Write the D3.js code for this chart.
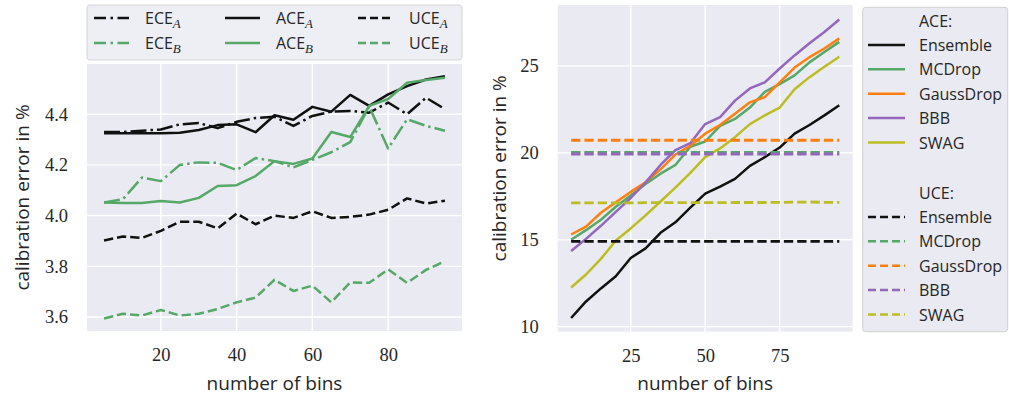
<!DOCTYPE html>
<html>
<head>
<meta charset="utf-8">
<script src="https://cdn.jsdelivr.net/npm/d3@7"></script>
<style>
  body { margin: 0; background: #fff; }
  .tick-label { font-family: "Liberation Serif", "DejaVu Serif", serif; font-size: 18.5px; fill: #262626; }
  .axis-title { font-family: "Open Sans", "DejaVu Sans", sans-serif; font-size: 19px; fill: #262626; }
  .legend-text { font-family: "Open Sans", "DejaVu Sans", sans-serif; font-size: 16px; fill: #262626; }
</style>
</head>
<body>
<svg id="chart" width="1009" height="398"></svg>
<script>
// number of bins, shared by both panels
const bins = [5, 10, 15, 20, 25, 30, 35, 40, 45, 50, 55, 60, 65, 70, 75, 80, 85, 90, 95];

// left panel: model A (black) and model B (green)
const eceA = [4.33, 4.33, 4.335, 4.34, 4.36, 4.365, 4.345, 4.37, 4.385, 4.39, 4.354, 4.393, 4.41, 4.413, 4.406, 4.446, 4.40, 4.465, 4.42];
const aceA = [4.325, 4.325, 4.325, 4.325, 4.327, 4.338, 4.357, 4.36, 4.329, 4.396, 4.378, 4.429, 4.41, 4.476, 4.433, 4.478, 4.511, 4.537, 4.55];
const uceA = [3.902, 3.918, 3.912, 3.94, 3.976, 3.976, 3.95, 4.008, 3.966, 4.0, 3.991, 4.017, 3.991, 3.995, 4.004, 4.023, 4.068, 4.048, 4.059];
const eceB = [4.052, 4.065, 4.15, 4.136, 4.2, 4.21, 4.208, 4.18, 4.227, 4.215, 4.19, 4.22, 4.25, 4.29, 4.43, 4.265, 4.38, 4.354, 4.335];
const aceB = [4.052, 4.05, 4.05, 4.058, 4.052, 4.07, 4.117, 4.12, 4.156, 4.215, 4.204, 4.225, 4.33, 4.31, 4.433, 4.46, 4.524, 4.535, 4.544];
const uceB = [3.594, 3.613, 3.606, 3.628, 3.606, 3.613, 3.632, 3.658, 3.677, 3.747, 3.703, 3.724, 3.658, 3.737, 3.735, 3.788, 3.735, 3.786, 3.82];

const leftXTicks = [20, 40, 60, 80];
const leftYTicks = [3.6, 3.8, 4.0, 4.2, 4.4];

// right panel: ACE per method
const methods = ["Ensemble", "MCDrop", "GaussDrop", "BBB", "SWAG"];
const aceEnsemble = [10.5, 11.45, 12.2, 12.9, 13.95, 14.5, 15.4, 16.0, 16.85, 17.65, 18.05, 18.5, 19.25, 19.75, 20.3, 21.1, 21.6, 22.15, 22.73];
const aceMCDrop = [15.0, 15.55, 16.15, 16.9, 17.55, 18.2, 18.8, 19.3, 20.35, 20.65, 21.55, 21.95, 22.6, 23.5, 23.95, 24.45, 25.2, 25.8, 26.38];
const aceGaussDrop = [15.3, 15.75, 16.55, 17.15, 17.75, 18.3, 19.05, 19.9, 20.4, 21.1, 21.6, 22.25, 22.9, 23.2, 24.05, 24.9, 25.5, 26.0, 26.58];
const aceBBB = [14.35, 15.05, 15.8, 16.6, 17.4, 18.3, 19.3, 20.15, 20.55, 21.65, 22.05, 23.0, 23.7, 24.05, 24.85, 25.6, 26.3, 26.95, 27.67];
const aceSWAG = [12.25, 13.0, 13.9, 14.95, 15.65, 16.4, 17.2, 18.0, 18.85, 19.75, 20.25, 20.9, 21.65, 22.15, 22.6, 23.65, 24.35, 24.95, 25.52];

// right panel: UCE per method (almost flat)
const uceEnsemble = [14.9, 14.9, 14.9, 14.9, 14.9, 14.9, 14.9, 14.9, 14.9, 14.9, 14.9, 14.9, 14.9, 14.9, 14.9, 14.9, 14.9, 14.9, 14.9];
const uceMCDrop = [20.02, 20.02, 20.02, 20.02, 20.02, 20.02, 20.02, 20.02, 20.02, 20.02, 20.02, 20.02, 20.02, 20.02, 20.02, 20.02, 20.02, 20.02, 20.02];
const uceGaussDrop = [20.72, 20.72, 20.72, 20.72, 20.72, 20.72, 20.72, 20.72, 20.72, 20.72, 20.72, 20.72, 20.72, 20.72, 20.72, 20.72, 20.72, 20.72, 20.72];
const uceBBB = [19.93, 19.93, 19.93, 19.93, 19.93, 19.93, 19.93, 19.93, 19.93, 19.93, 19.93, 19.93, 19.93, 19.93, 19.93, 19.93, 19.93, 19.93, 19.93];
const uceSWAG = [17.12, 17.12, 17.12, 17.12, 17.12, 17.13, 17.13, 17.13, 17.13, 17.13, 17.13, 17.14, 17.14, 17.14, 17.15, 17.16, 17.17, 17.15, 17.15];

const rightXTicks = [25, 50, 75];
const rightYTicks = [10, 15, 20, 25];

const GREEN = "#55a868";
const BLACK = "#111111";
const methodColors = ["#111111", "#55a868", "#ff7f0e", "#9467bd", "#bcbd22"];

const svg = d3.select("#chart");

// draws background, grid, tick labels and axis titles for one panel
const drawPanel = (box, xDomain, yDomain, xTicks, yTicks, yFormat, yTitleX) => {
  const x = d3.scaleLinear().domain(xDomain).range([box.left, box.right]);
  const y = d3.scaleLinear().domain(yDomain).range([box.bottom, box.top]);
  const g = svg.append("g");

  g.append("rect")
    .attr("x", box.left).attr("y", box.top)
    .attr("width", box.right - box.left).attr("height", box.bottom - box.top)
    .attr("fill", "#eaeaf2");

  const grid = g.append("g").attr("stroke", "#fff").attr("stroke-width", 1.4);
  grid.selectAll(".gx").data(xTicks).join("line")
    .attr("x1", (d) => x(d)).attr("x2", (d) => x(d))
    .attr("y1", box.top).attr("y2", box.bottom);
  grid.selectAll(".gy").data(yTicks).join("line")
    .attr("y1", (d) => y(d)).attr("y2", (d) => y(d))
    .attr("x1", box.left).attr("x2", box.right);

  // tick labels (no tick marks in darkgrid)
  const xAxis = d3.axisBottom(x).tickValues(xTicks).tickSize(0).tickPadding(17);
  g.append("g").attr("transform", `translate(0, ${box.bottom})`).call(xAxis)
    .call((a) => a.select(".domain").remove())
    .selectAll("text").attr("class", "tick-label").attr("font-size", null).attr("font-family", null);

  const yAxis = d3.axisLeft(y).tickValues(yTicks).tickSize(0).tickPadding(19).tickFormat(yFormat);
  g.append("g").attr("transform", `translate(${box.left}, 0)`).call(yAxis)
    .call((a) => a.select(".domain").remove())
    .selectAll("text").attr("class", "tick-label").attr("font-size", null).attr("font-family", null);

  g.append("text").attr("class", "axis-title")
    .attr("x", (box.left + box.right) / 2).attr("y", 390)
    .attr("text-anchor", "middle").text("number of bins");

  g.append("text").attr("class", "axis-title")
    .attr("transform", `translate(${yTitleX}, ${(box.top + box.bottom) / 2}) rotate(-90)`)
    .attr("text-anchor", "middle").text("calibration error in %");

  return { x, y };
};

const drawSeries = (scales, values, color, width, dash) => {
  const line = d3.line()
    .x((d, i) => scales.x(bins[i]))
    .y((d) => scales.y(d));
  svg.append("path")
    .datum(values)
    .attr("d", line)
    .attr("fill", "none")
    .attr("stroke", color)
    .attr("stroke-width", width)
    .attr("stroke-linejoin", "round")
    .attr("stroke-dasharray", dash);
};

// ---- left panel
const leftBox = { left: 87, right: 462, top: 64, bottom: 331 };
const left = drawPanel(leftBox, [0.5, 99.5], [3.545, 4.598], leftXTicks, leftYTicks, d3.format(".1f"), 29);

const LW = 2.5;
const DASHDOT = "16,4,2.5,4";
const DASHED = "9.3,4";
drawSeries(left, eceA, BLACK, LW, DASHDOT);
drawSeries(left, aceA, BLACK, LW, null);
drawSeries(left, uceA, BLACK, LW, DASHED);
drawSeries(left, eceB, GREEN, LW, DASHDOT);
drawSeries(left, aceB, GREEN, LW, null);
drawSeries(left, uceB, GREEN, LW, DASHED);

// left legend (3 columns, filled column-wise)
const leftLegend = [
  { name: "ECE", sub: "A", color: BLACK, dash: DASHDOT, col: 0, row: 0 },
  { name: "ECE", sub: "B", color: GREEN, dash: DASHDOT, col: 0, row: 1 },
  { name: "ACE", sub: "A", color: BLACK, dash: null, col: 1, row: 0 },
  { name: "ACE", sub: "B", color: GREEN, dash: null, col: 1, row: 1 },
  { name: "UCE", sub: "A", color: BLACK, dash: DASHED, col: 2, row: 0 },
  { name: "UCE", sub: "B", color: GREEN, dash: DASHED, col: 2, row: 1 },
];
const lg = svg.append("g");
lg.append("rect")
  .attr("x", 87).attr("y", 5).attr("width", 375).attr("height", 55)
  .attr("rx", 3).attr("fill", "#eeeef5").attr("stroke", "#d6d6d6").attr("stroke-width", 1);
const colX = [94, 225, 358];
const rowY = [18, 43];
leftLegend.forEach((e) => {
  const x0 = colX[e.col], yy = rowY[e.row];
  lg.append("line")
    .attr("x1", x0).attr("x2", x0 + 35).attr("y1", yy).attr("y2", yy)
    .attr("stroke", e.color).attr("stroke-width", LW)
    .attr("stroke-dasharray", e.dash ? (e.dash === DASHDOT ? "12,4.5,2.5,4.5" : "8,4") : null);
  const t = lg.append("text").attr("class", "legend-text")
    .attr("x", x0 + 51).attr("y", yy + 6);
  t.append("tspan").text(e.name);
  t.append("tspan").attr("dy", 4).attr("font-size", 13)
    .attr("font-family", "Liberation Serif, serif").attr("font-style", "italic").text(e.sub);
});

// ---- right panel
const rightBox = { left: 557.7, right: 852.7, top: 5, bottom: 331.7 };
const right = drawPanel(rightBox, [0.5, 99.5], [9.71, 28.5], rightXTicks, rightYTicks, d3.format("d"), 506);

const aceSeries = [aceEnsemble, aceMCDrop, aceGaussDrop, aceBBB, aceSWAG];
const uceSeries = [uceEnsemble, uceMCDrop, uceGaussDrop, uceBBB, uceSWAG];
const RDASH = "9.3,4";
// UCE lines drawn after ACE lines, in legend order
aceSeries.forEach((s, i) => drawSeries(right, s, methodColors[i], 2.5, null));
uceSeries.forEach((s, i) => drawSeries(right, s, methodColors[i], 2.8, RDASH));

// right legend
const rg = svg.append("g");
rg.append("rect")
  .attr("x", 862.7).attr("y", 7.3).attr("width", 145).attr("height", 324.4)
  .attr("rx", 3).attr("fill", "#eaeaf2").attr("stroke", "#d0d0d0").attr("stroke-width", 1);
const rowStep = 24.4;
const drawLegendBlock = (title, top, dash) => {
  rg.append("text").attr("class", "legend-text").attr("x", 919).attr("y", top + 6).text(title);
  methods.forEach((m, i) => {
    const yy = top + (i + 1) * rowStep;
    rg.append("line")
      .attr("x1", 868).attr("x2", 905).attr("y1", yy).attr("y2", yy)
      .attr("stroke", methodColors[i]).attr("stroke-width", 2.5).attr("stroke-dasharray", dash ? "8,4" : null);
    rg.append("text").attr("class", "legend-text").attr("x", 919).attr("y", yy + 6).text(m);
  });
};
drawLegendBlock("ACE:", 20.5, null);
drawLegendBlock("UCE:", 192.5, RDASH);
</script>
</body>
</html>
